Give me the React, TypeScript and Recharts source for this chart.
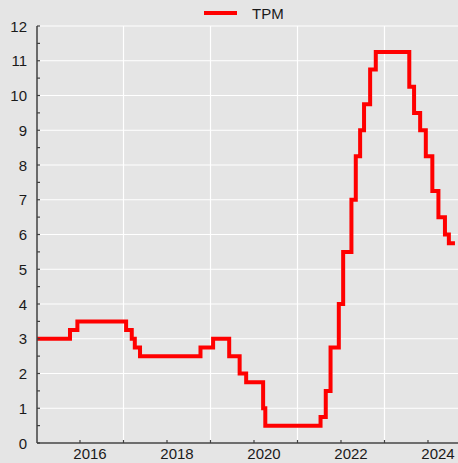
import { LineChart, Line, CartesianGrid, XAxis, YAxis, Legend } from 'recharts'

// policy rate change points (decimal year) and the rate in force from that date
const changeDates = [
  2015.01, 2015.77, 2015.94, 2017.06, 2017.19, 2017.26, 2017.38, 2018.77, 2019.06,
  2019.43, 2019.67, 2019.82, 2020.21, 2020.26, 2021.53, 2021.65, 2021.76, 2021.95,
  2022.05, 2022.24, 2022.34, 2022.44, 2022.53, 2022.67, 2022.8, 2023.57, 2023.68,
  2023.82, 2023.95, 2024.1, 2024.24, 2024.39, 2024.48, 2024.62,
]
const rates = [
  3.0, 3.25, 3.5, 3.25, 3.0, 2.75, 2.5, 2.75, 3.0,
  2.5, 2.0, 1.75, 1.0, 0.5, 0.75, 1.5, 2.75, 4.0,
  5.5, 7.0, 8.25, 9.0, 9.75, 10.75, 11.25, 10.25, 9.5,
  9.0, 8.25, 7.25, 6.5, 6.0, 5.75, 5.75,
]
const yearTicks = [2016, 2017, 2018, 2019, 2020, 2021, 2022, 2023, 2024]
const labelledYears = [2016, 2018, 2020, 2022, 2024]
const gridYears = [2017, 2019, 2021, 2023]
const rateTicks = Array.from({ length: 25 }, (_, i) => i / 2)
const gridRates = [0, 1, 2, 3, 4, 5, 6, 7, 8, 9, 10, 11, 12]

const data = changeDates.map((t, i) => ({ t, tpm: rates[i] }))

const FONT = '"Liberation Sans", Arial, Helvetica, sans-serif'
const BG = '#e5e5e5'
const AXIS = '#404040'

const XTick = (props: any) => {
  const { x, y, payload } = props
  const v = payload.value
  return (
    <g>
      <line x1={x} x2={x} y1={y} y2={y - 3} stroke={AXIS} strokeWidth={1.2} />
      {labelledYears.includes(v) && (
        <text x={x + 10} y={y + 16} textAnchor="middle" fontSize={15} fontFamily={FONT} fill="#1a1a1a">
          {v}
        </text>
      )}
    </g>
  )
}

const YTick = (props: any) => {
  const { x, y, payload } = props
  const v = payload.value
  return (
    <g>
      <line x1={x} x2={x + 3} y1={y} y2={y} stroke={AXIS} strokeWidth={1.2} />
      {Number.isInteger(v) && (
        <text x={x - 10} y={y + 5.5} textAnchor="end" fontSize={15} fontFamily={FONT} fill="#1a1a1a">
          {v}
        </text>
      )}
    </g>
  )
}

const LegendBox = () => (
  <svg width={458} height={26}>
    <line x1={204} x2={237} y1={13} y2={13} stroke="#ff0000" strokeWidth={4} />
    <text x={252} y={19} fontSize={15} fontFamily={FONT} fill="#1a1a1a">TPM</text>
  </svg>
)

export default function App() {
  return (
    <div style={{ position: 'absolute', left: 0, top: 0, width: 458, height: 463, background: BG }}>
      <LineChart width={458} height={463} data={data} margin={{ top: 26, right: 0, bottom: 0, left: 0 }}>
        <CartesianGrid
          stroke="#ffffff"
          strokeWidth={1.2}
          horizontalValues={gridRates}
          verticalValues={gridYears}
        />
        <XAxis
          type="number"
          dataKey="t"
          domain={[2015.0115, 2024.69]}
          allowDataOverflow
          ticks={yearTicks}
          interval={0}
          height={20}
          tickSize={0}
          tickMargin={0}
          tickLine={false}
          tick={<XTick />}
          axisLine={{ stroke: AXIS, strokeWidth: 1.5 }}
        />
        <YAxis
          type="number"
          domain={[0, 12]}
          ticks={rateTicks}
          interval={0}
          width={37}
          tickSize={0}
          tickMargin={0}
          tickLine={false}
          tick={<YTick />}
          axisLine={{ stroke: AXIS, strokeWidth: 1.5 }}
        />
        <Legend
          verticalAlign="middle"
          align="center"
          wrapperStyle={{ top: 0, left: 0, width: 458, height: 26 }}
          content={<LegendBox />}
        />
        <Line
          type="stepAfter"
          dataKey="tpm"
          name="TPM"
          stroke="#ff0000"
          strokeWidth={4}
          dot={false}
          isAnimationActive={false}
        />
      </LineChart>
    </div>
  )
}
